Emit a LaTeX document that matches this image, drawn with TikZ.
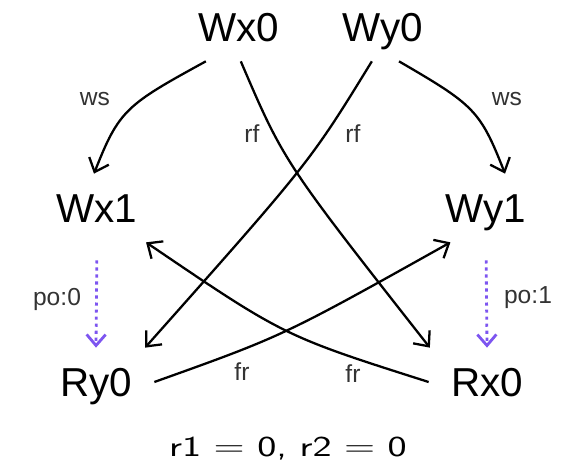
\documentclass[tikz,border=0pt]{standalone}
\usepackage{fontspec}
\setmainfont{Liberation Sans}
\usepackage{xcolor}
\usetikzlibrary{arrows.meta}

\definecolor{poviolet}{RGB}{125,85,240}

\begin{document}
\begin{tikzpicture}[
    x=0.02cm, y=-0.02cm,
    event/.style={rectangle,inner sep=0pt,minimum width=2.32cm,minimum height=1.36cm,
        font=\fontsize{23}{27}\selectfont,text height=16.5pt,text depth=0pt},
    lbl/.style={font=\fontsize{14}{16}\selectfont,text=black!80,inner sep=0pt},
    rel/.style={-{Straight Barb[length=2.4mm,width=4.2mm]},line width=1.3pt},
    po/.style={-{Straight Barb[length=2.2mm,width=3.8mm]},line width=1.6pt,poviolet,
        dash pattern=on 1.8pt off 2.2pt,shorten <=0.36cm}
]
\useasboundingbox (0,0) rectangle (568,466);
\node[event] (Wx0) at (239,27) {Wx0};
\node[event] (Wy0) at (383,27) {Wy0};
\node[event] (Wx1) at (97,208) {Wx1};
\node[event] (Wy1) at (486,208) {Wy1};
\node[event] (Ry0) at (96,382) {Ry0};
\node[event] (Rx0) at (487,382) {Rx0};
% write serialization
\draw[rel] (Wx0.226) .. controls (126,105) and (119,110) .. (Wx1.95);
\draw[rel] (Wy0.295) .. controls (474,105) and (480,110) .. (Wy1.61);
% reads-from
\draw[rel] (Wx0.273) .. controls (284,162) .. (Rx0.149);
\draw[rel] (Wy0.252) .. controls (310,162) .. (Ry0.35);
% from-read
\draw[rel] (Ry0.east) .. controls (283,336) .. (Wy1.224);
\draw[rel] (Rx0.west) .. controls (284,336) .. (Wx1.325);
% program order
\draw[po] (Wx1.south) -- (Ry0.north);
\draw[po] (Wy1.south) -- (Rx0.north);
\node[lbl] (wsx) at (95,99) {ws};
\node[lbl] (wsy) at (507,99) {ws};
\node[lbl] (rfx) at (252,134) {rf};
\node[lbl] (rfy) at (353,134) {rf};
\node[lbl] (frx) at (242,372) {fr};
\node[lbl] (fry) at (353,374) {fr};
\node[lbl] (po0) at (57,299) {po:0};
\node[lbl] (po1) at (528,298) {po:1};
\node[font=\sffamily\fontsize{16.5}{20}\selectfont\addfontfeatures{FakeBold=1.2}] (res) at (288,449)
    {\scalebox{1.4}[1]{r1 $=$ 0, r2 $=$ 0}};
\end{tikzpicture}
\end{document}
